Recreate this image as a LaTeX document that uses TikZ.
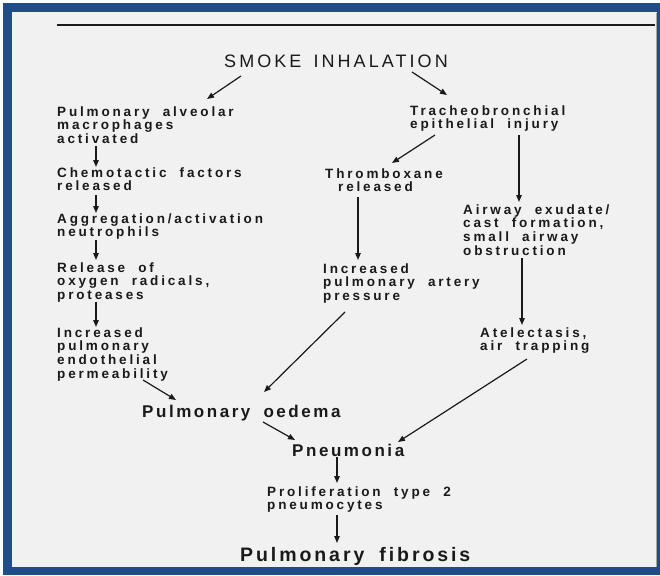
\documentclass[tikz,border=0pt]{standalone}
\usepackage{fontspec}
\setmainfont{Liberation Sans}
\newfontfamily\smallf{Liberation Sans Bold}[LetterSpace=21,WordSpace=2.0]
\newfontfamily\bigf{Liberation Sans Bold}[LetterSpace=15,WordSpace=1.8]
\newfontfamily\headf{Liberation Sans}[LetterSpace=17,WordSpace=1.5]
\usetikzlibrary{arrows.meta}
\definecolor{ink}{HTML}{1A1A1A}
\definecolor{frameblue}{HTML}{1F4D87}
\definecolor{paper}{HTML}{F1F1F1}
\newcommand{\ml}[1]{\begin{tabular}[t]{@{}l@{}}#1\end{tabular}}
\tikzset{
  lbl/.style={inner sep=0pt, anchor=base west, text=ink,
    font=\smallf\fontsize{13.5}{13.7}\selectfont},
  biglbl/.style={inner sep=0pt, anchor=base west, text=ink,
    font=\bigf\fontsize{17}{19}\selectfont},
  fiblbl/.style={inner sep=0pt, anchor=base west, text=ink,
    font=\bigf\fontsize{19.5}{21}\selectfont},
  headlbl/.style={inner sep=0pt, anchor=base west, text=ink,
    font=\headf\fontsize{18}{20}\selectfont},
  arr/.style={draw=ink, line width=1.2pt, -{Triangle[length=7pt,width=5.5pt]}}
}
\begin{document}
\begin{tikzpicture}[x=1pt,y=-1pt]
\useasboundingbox (0,0) rectangle (660,575);
\fill[white] (0,0) rectangle (660,575);
\fill[frameblue] (3,3) rectangle (660,575);
\fill[paper] (12,12) rectangle (657,567);
\draw[gray!70, line width=0.8pt] (656,13) -- (656,567);
\draw[ink, line width=1.5pt] (57,25) -- (655,25);

\node[headlbl] (smoke) at (224,68) {SMOKE INHALATION};

\node[lbl] (pam) at (57,116) {\ml{Pulmonary alveolar\\macrophages\\activated}};
\node[lbl] (chem) at (57,177) {\ml{Chemotactic factors\\released}};
\node[lbl] (agg) at (57,223) {\ml{Aggregation/activation\\neutrophils}};
\node[lbl] (rel) at (57,272) {\ml{Release of\\oxygen radicals,\\proteases}};
\node[lbl] (inc) at (57,337) {\ml{Increased\\pulmonary\\endothelial\\permeability}};

\node[lbl] (trach) at (410,115) {\ml{Tracheobronchial\\epithelial injury}};
\node[lbl] (throm) at (325,178) {\ml{Thromboxane\\\hspace*{13pt}released}};
\node[lbl] (ipa) at (323,273) {\ml{Increased\\pulmonary artery\\pressure}};
\node[lbl] (air) at (463,214) {\ml{Airway exudate/\\cast formation,\\small airway\\obstruction}};
\node[lbl] (atel) at (480,337) {\ml{Atelectasis,\\air trapping}};

\node[biglbl] (oed) at (142,417) {Pulmonary oedema};
\node[biglbl] (pneu) at (292,456) {Pneumonia};
\node[lbl] (prol) at (267,496) {\ml{Proliferation type 2\\pneumocytes}};
\node[fiblbl] (fib) at (240,561) {Pulmonary fibrosis};

\draw[arr] ([shift={(17,8)}]smoke.base west) -- ([shift={(150,-17)}]pam.base west);
\draw[arr] ([shift={(188,4)}]smoke.base west) -- ([shift={(37,-20)}]trach.base west);
\draw[arr] ([shift={(39,30)}]pam.base west) -- ([shift={(39,-10)}]chem.base west);
\draw[arr] ([shift={(39,18)}]chem.base west) -- ([shift={(39,-10)}]agg.base west);
\draw[arr] ([shift={(39,17)}]agg.base west) -- ([shift={(39,-12)}]rel.base west);
\draw[arr] ([shift={(39,30)}]rel.base west) -- ([shift={(39,-10)}]inc.base west);
\draw[arr] ([shift={(86,43)}]inc.base west) -- ([shift={(34,-17)}]oed.base west);
\draw[arr] ([shift={(25,20)}]trach.base west) -- ([shift={(67,-15)}]throm.base west);
\draw[arr] ([shift={(109,20)}]trach.base west) -- ([shift={(56,-12)}]air.base west);
\draw[arr] ([shift={(33,19)}]throm.base west) -- ([shift={(35,-13)}]ipa.base west);
\draw[arr] ([shift={(59,44)}]air.base west) -- ([shift={(42,-12)}]atel.base west);
\draw[arr] ([shift={(22,39)}]ipa.base west) -- ([shift={(122,-25)}]oed.base west);
\draw[arr] ([shift={(47,22)}]atel.base west) -- ([shift={(106,-14)}]pneu.base west);
\draw[arr] ([shift={(121,5)}]oed.base west) -- ([shift={(3,-16)}]pneu.base west);
\draw[arr] ([shift={(45,1)}]pneu.base west) -- ([shift={(70,-13)}]prol.base west);
\draw[arr] ([shift={(70,19)}]prol.base west) -- ([shift={(97,-18)}]fib.base west);
\end{tikzpicture}
\end{document}
